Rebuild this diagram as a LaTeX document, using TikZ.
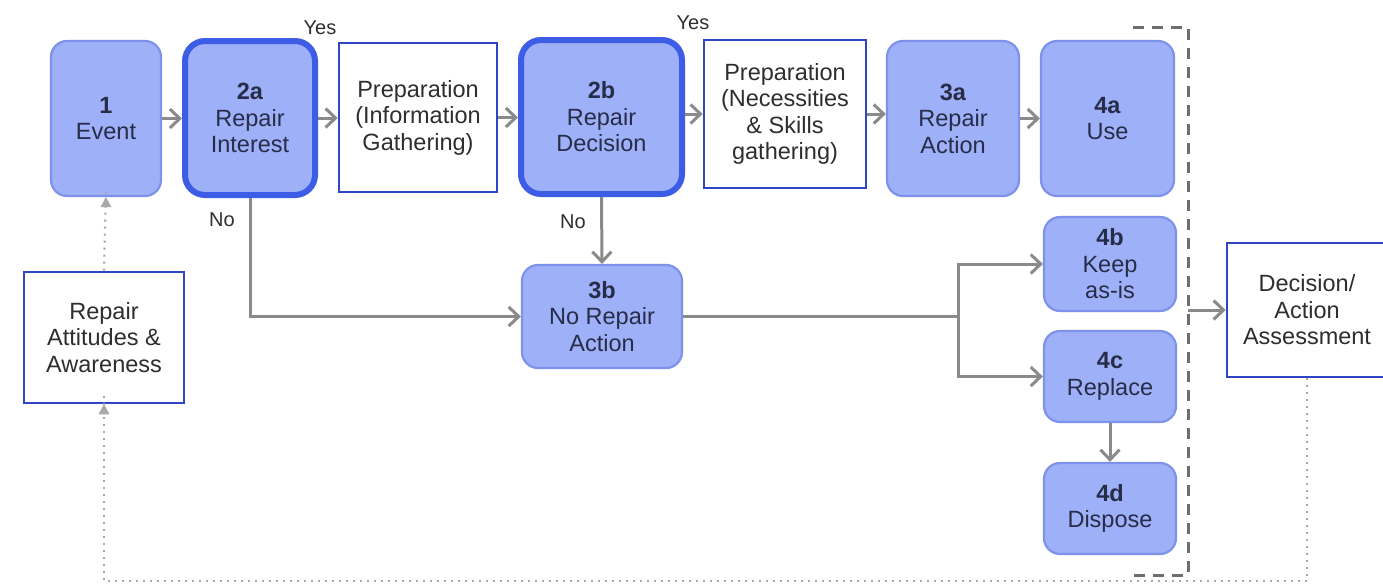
\documentclass[tikz,border=0pt]{standalone}
\usepackage{fontspec}
\setmainfont{Liberation Sans}
\usetikzlibrary{arrows.meta}
\definecolor{boxfill}{HTML}{9DB0F8}
\definecolor{boxedge}{HTML}{7E92EC}
\definecolor{thickedge}{HTML}{3E5DE6}
\definecolor{prepedge}{HTML}{2E45C4}
\definecolor{arrgray}{HTML}{8A8A8A}
\definecolor{dashgray}{HTML}{6E6E6E}
\definecolor{dotgray}{HTML}{A8A8A8}
\definecolor{bluetext}{HTML}{272C48}
\definecolor{greytext}{HTML}{2E2E2E}
\tikzset{
  every node/.style={font=\fontsize{23.5}{26.5}\selectfont, align=center, inner sep=0pt},
  bluebox/.style={draw=boxedge, fill=boxfill, line width=2.2pt, rounded corners=16pt, text=bluetext},
  keybox/.style={draw=thickedge, fill=boxfill, line width=6pt, rounded corners=20pt, text=bluetext},
  prepbox/.style={draw=prepedge, fill=white, line width=2.6pt, text=greytext},
  conn/.style={draw=arrgray, line width=3pt, -{Straight Barb[length=10pt,width=19pt,line width=3pt]}},
  connplain/.style={draw=arrgray, line width=3pt},
  lbl/.style={font=\fontsize{20}{22}\selectfont, text=greytext},
  dotconn/.style={draw=dotgray, line width=2.2pt, dash pattern=on 2pt off 5pt},
  bracket/.style={draw=dashgray, line width=3pt, dash pattern=on 11pt off 8pt}
}
\begin{document}
\begin{tikzpicture}[x=1pt,y=-1pt]
\useasboundingbox[fill=white] (0,0) rectangle (1383,587);

% top row
\node[bluebox, minimum width=110pt, minimum height=155pt] (ev) at (106,118.5) {\textbf{1}\\Event};
\node[keybox, minimum width=130pt, minimum height=154pt] (i2a) at (250,118) {\textbf{2a}\\Repair\\Interest};
\node[prepbox, minimum width=158pt, minimum height=149pt] (p1) at (418,117.5) {Preparation\\(Information\\Gathering)};
\node[keybox, minimum width=161pt, minimum height=154pt] (d2b) at (601.5,117) {\textbf{2b}\\Repair\\Decision};
\node[prepbox, minimum width=162pt, minimum height=148pt] (p2) at (785,114) {Preparation\\(Necessities\\\&~Skills\\gathering)};
\node[bluebox, minimum width=132pt, minimum height=155pt] (a3) at (953,118.5) {\textbf{3a}\\Repair\\Action};
\node[bluebox, minimum width=133pt, minimum height=155pt] (u4a) at (1107.5,118.5) {\textbf{4a}\\Use};

% outcomes column
\node[bluebox, minimum width=132pt, minimum height=94pt] (k4b) at (1110,264) {\textbf{4b}\\Keep\\as-is};
\node[bluebox, minimum width=132pt, minimum height=91pt] (r4c) at (1110,376.5) {\textbf{4c}\\Replace};
\node[bluebox, minimum width=132pt, minimum height=91pt] (d4d) at (1110,508.5) {\textbf{4d}\\Dispose};

\node[bluebox, minimum width=160pt, minimum height=103pt] (nr3b) at (602,316.5) {\textbf{3b}\\No Repair\\Action};

\node[prepbox, minimum width=160pt, minimum height=131pt] (att) at (104,337.5) {Repair\\Attitudes \&\\Awareness};
\node[prepbox, minimum width=160pt, minimum height=134pt] (dec) at (1307,310) {Decision/\\Action\\Assessment};

% labels
\node[lbl] (yes1) at (320,28) {Yes};
\node[lbl] (yes2) at (693,23) {Yes};
\node[lbl] (no1) at (222,220) {No};
\node[lbl] (no2) at (573,222) {No};

% main flow
\draw[conn] (ev.east) -- (i2a.west |- ev.east);
\draw[conn] (i2a.east) -- (p1.west |- i2a.east);
\draw[conn] (p1.east) -- (d2b.west |- p1.east);
\draw[conn] (d2b.east |- p2.west) -- (p2.west);
\draw[conn] (p2.east) -- (a3.west |- p2.east);
\draw[conn] (a3.east) -- (u4a.west |- a3.east);

\draw[conn] (i2a.south) |- (nr3b.west);
\draw[conn] (d2b.south) -- (nr3b.north);

\coordinate (br) at (958,316.5);
\draw[connplain] (nr3b.east) -- (br);
\draw[conn] (br) |- (k4b.west);
\draw[conn] (br) |- (r4c.west);
\draw[conn] (r4c.south) -- (d4d.north);

% dashed bracket
\coordinate (bt1) at (1133,27);
\coordinate (bt2) at (1188,27);
\coordinate (bb2) at (1188,575);
\coordinate (bb1) at (1133,575);
\draw[bracket] (bt1) -- (bt2) -- (bb2) -- (bb1);
\coordinate (bo) at (1188,310);
\draw[conn] (bo) -- (dec.west);

% dotted feedback loop
\coordinate (lr) at (1307,581);
\coordinate (ll) at (104,581);
\draw[dotconn] (dec.south) -- (lr) -- (ll) -- ([yshift=9pt]att.south);
\fill[dotgray] (att.south) -- ++(-5.5,10) -- ++(11,0) -- cycle;
\draw[dotconn] (att.north) -- ([yshift=9pt]ev.south);
\fill[dotgray] (ev.south) -- ++(-5.5,10) -- ++(11,0) -- cycle;
\end{tikzpicture}
\end{document}
